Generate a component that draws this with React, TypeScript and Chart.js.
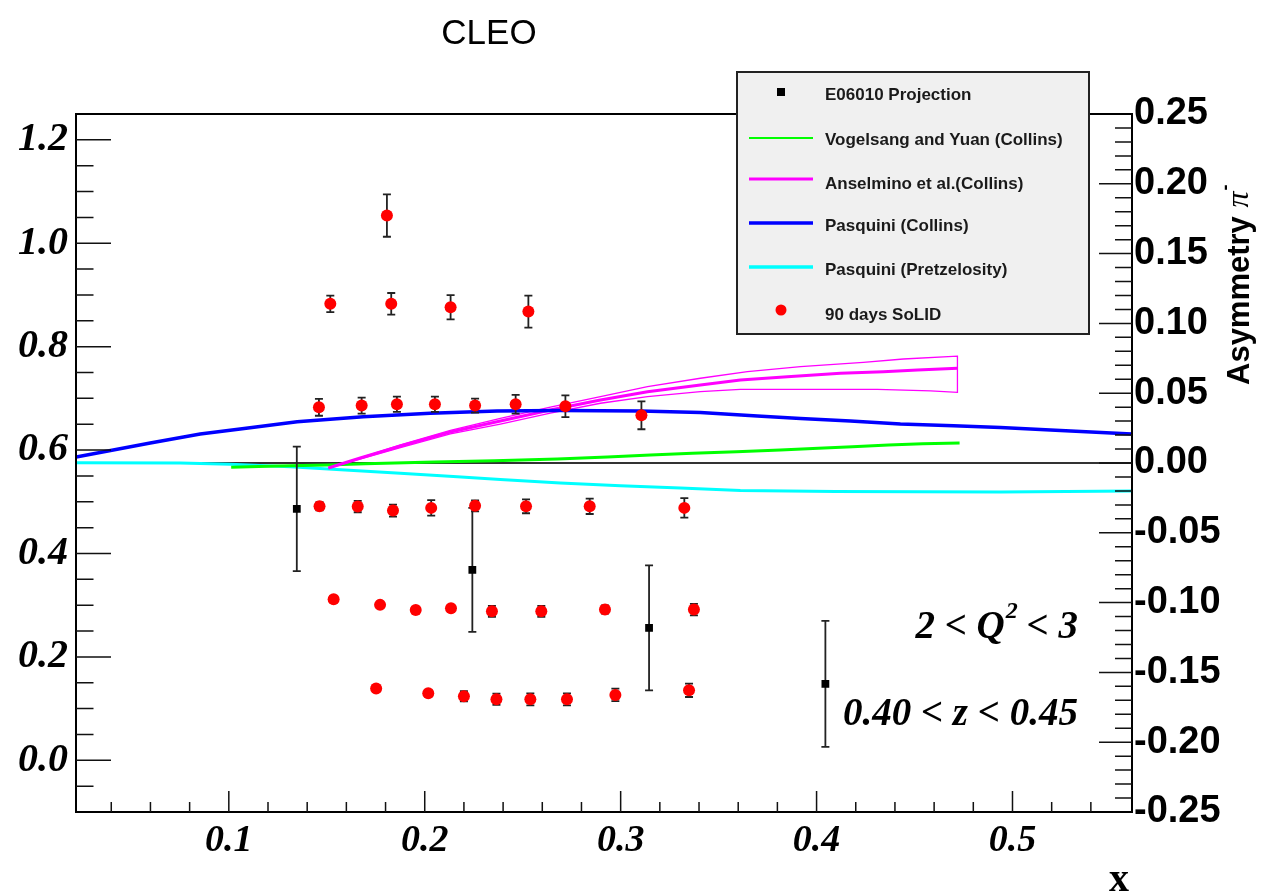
import React, { useEffect, useRef } from "react";
import { Chart, registerables } from "chart.js";

Chart.register(...registerables);

// ---------- tick labels ----------
const xTicks = [0.1, 0.2, 0.3, 0.4, 0.5];
const leftTicks = [0.0, 0.2, 0.4, 0.6, 0.8, 1.0, 1.2];
const rightTicks = [-0.25, -0.2, -0.15, -0.1, -0.05, 0.0, 0.05, 0.1, 0.15, 0.2, 0.25];

// ---------- 90 days SoLID (left-axis units) ----------
const solidX = [
  0.1807,
  0.1518, 0.1829, 0.2132, 0.2529,
  0.146, 0.1678, 0.1858, 0.2052, 0.2257, 0.2464, 0.2718, 0.3106,
  0.1463, 0.1658, 0.1838, 0.2033, 0.2257, 0.2517, 0.2842, 0.3325,
  0.1535, 0.1772, 0.1954, 0.2134, 0.2343, 0.2595, 0.292, 0.3374,
  0.1752, 0.2018, 0.22, 0.2366, 0.2539, 0.2726, 0.2973, 0.3349,
];
const solidY = [
  1.0536,
  0.8828, 0.8828, 0.8762, 0.8679,
  0.6828, 0.6861, 0.6886, 0.6886, 0.6861, 0.6886, 0.6847, 0.6673,
  0.4913, 0.4907, 0.483, 0.4882, 0.4921, 0.4913, 0.4913, 0.4882,
  0.3114, 0.3006, 0.2909, 0.294, 0.2882, 0.2882, 0.2915, 0.2915,
  0.1387, 0.1296, 0.1238, 0.118, 0.118, 0.118, 0.1265, 0.1354,
];
const solidErr = [
  0.041,
  0.016, 0.021, 0.0236, 0.031,
  0.0164, 0.0155, 0.0149, 0.0149, 0.0135, 0.018, 0.021, 0.027,
  0.008, 0.011, 0.0116, 0.0149, 0.0106, 0.0135, 0.0149, 0.019,
  0.006, 0.006, 0.006, 0.006, 0.0106, 0.0106, 0.008, 0.0112,
  0.006, 0.006, 0.0097, 0.011, 0.0116, 0.0116, 0.0122, 0.013,
];

// ---------- E06010 projection (left-axis units) ----------
const e06010X = [0.1347, 0.2243, 0.3145, 0.4045];
const e06010Y = [0.4863, 0.3683, 0.2561, 0.1478];
const e06010Err = [0.1205, 0.12, 0.121, 0.122];

// ---------- theory curves (asymmetry, right axis) ----------
const pasquiniCollinsX = [0.0221, 0.0599, 0.0854, 0.1058, 0.1349, 0.1686, 0.2028, 0.237, 0.2692, 0.3101, 0.3407, 0.3698, 0.3918, 0.4173, 0.4428, 0.4699, 0.4939, 0.5194, 0.5608];
const pasquiniCollinsA = [0.0043, 0.0143, 0.0208, 0.0244, 0.0296, 0.0332, 0.0356, 0.0372, 0.0376, 0.0372, 0.0362, 0.0337, 0.0319, 0.0301, 0.0279, 0.0267, 0.0254, 0.0236, 0.0208];

const pasquiniPretzX = [0.0221, 0.0752, 0.1007, 0.1313, 0.1594, 0.1875, 0.2166, 0.2386, 0.2692, 0.2999, 0.3305, 0.3611, 0.4096, 0.4939, 0.5608];
const pasquiniPretzA = [0.0002, 0.0, -0.0009, -0.0027, -0.005, -0.0074, -0.0098, -0.0118, -0.0143, -0.0163, -0.0179, -0.0197, -0.0204, -0.0208, -0.0201];

const vogelsangX = [0.1012, 0.1247, 0.1502, 0.1696, 0.2049, 0.2355, 0.2677, 0.2932, 0.3152, 0.3366, 0.3591, 0.3815, 0.4009, 0.4183, 0.4367, 0.4541, 0.473];
const vogelsangA = [-0.0031, -0.0021, -0.0014, -0.0005, 0.0007, 0.0016, 0.0029, 0.0043, 0.0057, 0.0069, 0.0081, 0.0093, 0.0105, 0.0117, 0.0129, 0.0138, 0.0143];

const anselminoX = [0.1508, 0.1671, 0.1876, 0.2131, 0.2386, 0.2641, 0.2897, 0.3137, 0.3407, 0.3611, 0.3851, 0.4122, 0.4341, 0.4515, 0.4719];
const anselminoA = [-0.0036, 0.0036, 0.0122, 0.0222, 0.0301, 0.038, 0.0451, 0.0511, 0.0559, 0.0595, 0.0618, 0.0643, 0.0654, 0.0666, 0.0678];

const anselminoUpX = [0.1508, 0.1876, 0.2131, 0.2386, 0.2641, 0.2897, 0.3137, 0.3407, 0.3647, 0.3918, 0.4239, 0.4443, 0.4719];
const anselminoUpA = [-0.0036, 0.0129, 0.0233, 0.0319, 0.0401, 0.0475, 0.0547, 0.0607, 0.0654, 0.069, 0.0721, 0.0745, 0.0766];
const anselminoLoX = [0.1508, 0.1876, 0.2131, 0.2386, 0.2641, 0.2897, 0.3137, 0.3407, 0.3611, 0.4311, 0.4582, 0.4719];
const anselminoLoA = [-0.0036, 0.0111, 0.0208, 0.0279, 0.0358, 0.0428, 0.0475, 0.0511, 0.0528, 0.0528, 0.0516, 0.0506];

const zeroLineX = [0.022, 0.561];
const zeroLineA = [0, 0];

// ---------- legend ----------
const legendLabels = [
  "E06010 Projection",
  "Vogelsang and Yuan (Collins)",
  "Anselmino et al.(Collins)",
  "Pasquini (Collins)",
  "Pasquini (Pretzelosity)",
  "90 days SoLID",
];

const SANS = '"Liberation Sans", Arial, sans-serif';
const SERIF = '"Liberation Serif", "Times New Roman", serif';

const zip = (xs: number[], ys: number[]) => xs.map((x, i) => ({ x, y: ys[i] }));

const errPlugin = {
  id: "errbars",
  beforeDatasetDraw(chart: any, args: any) {
    const ds = chart.data.datasets[args.index];
    if (!ds.errors) return;
    const ctx = chart.ctx;
    const xs = chart.scales.x;
    const ys = chart.scales[ds.yAxisID || "y"];
    const a = chart.chartArea;
    ctx.save();
    ctx.beginPath();
    ctx.rect(a.left, a.top, a.right - a.left, a.bottom - a.top);
    ctx.clip();
    ctx.strokeStyle = ds.errColor;
    ctx.lineWidth = 1.8;
    ds.data.forEach((p: any, i: number) => {
      const e = ds.errors[i];
      const px = xs.getPixelForValue(p.x);
      const y1 = ys.getPixelForValue(p.y + e);
      const y2 = ys.getPixelForValue(p.y - e);
      const c = ds.capHalf;
      ctx.beginPath();
      ctx.moveTo(px, y1);
      ctx.lineTo(px, y2);
      ctx.moveTo(px - c, y1);
      ctx.lineTo(px + c, y1);
      ctx.moveTo(px - c, y2);
      ctx.lineTo(px + c, y2);
      ctx.stroke();
    });
    ctx.restore();
  },
};

const decorPlugin = {
  id: "decor",
  afterDraw(chart: any) {
    const { ctx, chartArea: a, scales } = chart;
    ctx.save();
    // frame
    ctx.strokeStyle = "#000";
    ctx.lineWidth = 2;
    ctx.strokeRect(a.left, a.top, a.right - a.left, a.bottom - a.top);

    // ticks
    ctx.lineWidth = 1.5;
    ctx.strokeStyle = "#111";
    ctx.beginPath();
    for (let i = -1; i <= 24; i++) {
      const p = scales.y.getPixelForValue(i * 0.05);
      const len = i % 4 === 0 ? 35 : 17.5;
      ctx.moveTo(a.left, p);
      ctx.lineTo(a.left + len, p);
    }
    for (let i = -24; i <= 24; i++) {
      const p = scales.y2.getPixelForValue(i * 0.01);
      const len = i % 5 === 0 ? 33 : 17;
      ctx.moveTo(a.right, p);
      ctx.lineTo(a.right - len, p);
    }
    for (let i = 2; i <= 27; i++) {
      const p = scales.x.getPixelForValue(i * 0.02);
      const len = i % 5 === 0 ? 21 : 10;
      ctx.moveTo(p, a.bottom);
      ctx.lineTo(p, a.bottom - len);
    }
    ctx.stroke();

    // title
    ctx.fillStyle = "#000";
    ctx.font = `35px ${SANS}`;
    ctx.textAlign = "center";
    ctx.textBaseline = "middle";
    ctx.fillText("CLEO", 489, 34);

    // x axis title
    ctx.font = `bold 40px ${SERIF}`;
    ctx.textAlign = "right";
    ctx.textBaseline = "alphabetic";
    ctx.fillText("x", 1129, 891);

    // right axis title (rotated)
    ctx.save();
    ctx.translate(1240, 385);
    ctx.rotate(-Math.PI / 2);
    ctx.textAlign = "left";
    ctx.textBaseline = "middle";
    ctx.font = `bold 31px ${SANS}`;
    const w1 = ctx.measureText("Asymmetry ").width;
    ctx.fillText("Asymmetry ", 0, 0);
    ctx.font = `italic 32px ${SERIF}`;
    ctx.fillText("π", w1, 0);
    const w2 = ctx.measureText("π").width;
    ctx.font = `bold 18px ${SANS}`;
    ctx.fillText("-", w1 + w2 + 1, -14);
    ctx.restore();

    // annotations
    ctx.fillStyle = "#000";
    ctx.textAlign = "left";
    ctx.textBaseline = "alphabetic";
    const big = `bold italic 39px ${SERIF}`;
    const sup = `bold italic 24px ${SERIF}`;
    ctx.font = big;
    const pA = "2 < Q";
    const pC = " < 3";
    const wA = ctx.measureText(pA).width;
    const wC = ctx.measureText(pC).width;
    ctx.font = sup;
    const wB = ctx.measureText("2").width;
    const sx = 1078 - (wA + wB + wC);
    ctx.font = big;
    ctx.fillText(pA, sx, 638);
    ctx.font = sup;
    ctx.fillText("2", sx + wA + 1, 618);
    ctx.font = big;
    ctx.fillText(pC, sx + wA + wB, 638);
    ctx.textAlign = "right";
    ctx.fillText("0.40 < z < 0.45", 1078, 725);

    // legend box
    ctx.fillStyle = "#f0f0f0";
    ctx.fillRect(737, 72, 352, 262);
    ctx.strokeStyle = "#222";
    ctx.lineWidth = 2;
    ctx.strokeRect(737, 72, 352, 262);

    const textY = [95.5, 140, 184, 226, 270, 315];
    const markY = [92, 138, 179, 223, 267, 310];
    // marker: square
    ctx.fillStyle = "#000";
    ctx.fillRect(777, 88, 8, 8);
    // lines
    const lineCols = ["#00ff00", "#ff00ff", "#0000ff", "#00ffff"];
    const lineW = [2, 3, 3.5, 3.5];
    for (let i = 0; i < 4; i++) {
      ctx.strokeStyle = lineCols[i];
      ctx.lineWidth = lineW[i];
      ctx.beginPath();
      ctx.moveTo(749, markY[i + 1]);
      ctx.lineTo(813, markY[i + 1]);
      ctx.stroke();
    }
    // marker: red dot
    ctx.fillStyle = "#ff0000";
    ctx.beginPath();
    ctx.arc(781, markY[5], 5.5, 0, Math.PI * 2);
    ctx.fill();

    ctx.fillStyle = "#1a1a1a";
    ctx.font = `bold 17px ${SANS}`;
    ctx.textAlign = "left";
    ctx.textBaseline = "middle";
    legendLabels.forEach((t, i) => ctx.fillText(t, 825, textY[i]));

    ctx.restore();
  },
};

export default function App() {
  const ref = useRef<HTMLCanvasElement>(null);
  useEffect(() => {
    document.body.style.margin = "0";
    const bandData = [
      ...zip(anselminoUpX, anselminoUpA),
      ...zip(anselminoLoX, anselminoLoA).reverse(),
    ];
    const lineDs = (label: string, data: any[], color: string, width: number) => ({
      label,
      data,
      yAxisID: "y2",
      showLine: true,
      borderColor: color,
      backgroundColor: color,
      borderWidth: width,
      pointRadius: 0,
      pointHoverRadius: 0,
      fill: false,
      tension: 0,
    });
    const chart = new Chart(ref.current as HTMLCanvasElement, {
      type: "scatter",
      data: {
        datasets: [
          {
            label: "90 days SoLID",
            data: zip(solidX, solidY),
            yAxisID: "y",
            pointStyle: "circle",
            pointRadius: 6,
            pointBackgroundColor: "#ff0000",
            pointBorderColor: "#ff0000",
            pointBorderWidth: 0,
            errors: solidErr,
            errColor: "#222",
            capHalf: 4,
          } as any,
          {
            label: "E06010 Projection",
            data: zip(e06010X, e06010Y),
            yAxisID: "y",
            pointStyle: "rect",
            pointRadius: 5.5,
            pointBackgroundColor: "#000",
            pointBorderColor: "#000",
            pointBorderWidth: 0,
            errors: e06010Err,
            errColor: "#222",
            capHalf: 4,
          } as any,
          lineDs("Pasquini (Collins)", zip(pasquiniCollinsX, pasquiniCollinsA), "#0000ff", 3.5),
          lineDs("Anselmino et al.(Collins)", zip(anselminoX, anselminoA), "#ff00ff", 3),
          lineDs("Anselmino band", bandData, "#ff00ff", 1.3),
          lineDs("Vogelsang and Yuan (Collins)", zip(vogelsangX, vogelsangA), "#00ff00", 3),
          lineDs("Pasquini (Pretzelosity)", zip(pasquiniPretzX, pasquiniPretzA), "#00ffff", 3),
          lineDs("zero", zip(zeroLineX, zeroLineA), "#333333", 2),
        ],
      },
      options: {
        animation: false,
        responsive: false,
        devicePixelRatio: 1,
        layout: { padding: { top: 114, left: 0, right: 0, bottom: 0 } },
        plugins: { legend: { display: false }, tooltip: { enabled: false }, title: { display: false } },
        events: [],
        scales: {
          x: {
            type: "linear",
            min: 0.022,
            max: 0.561,
            grid: { display: false, drawTicks: false },
            border: { display: false },
            afterBuildTicks: (s: any) => {
              s.ticks = xTicks.map((v) => ({ value: v }));
            },
            afterFit: (s: any) => {
              s.height = 82;
            },
            ticks: {
              autoSkip: false,
              maxRotation: 0,
              padding: 6,
              color: "#000",
              font: { family: SERIF, size: 38, style: "italic", weight: "bold" },
              callback: (v: any) => Number(v).toFixed(1),
            },
          },
          y: {
            type: "linear",
            position: "left",
            min: -0.1,
            max: 1.25,
            grid: { display: false, drawTicks: false },
            border: { display: false },
            afterBuildTicks: (s: any) => {
              s.ticks = leftTicks.map((v) => ({ value: v }));
            },
            afterFit: (s: any) => {
              s.width = 76;
            },
            ticks: {
              autoSkip: false,
              padding: 8,
              color: "#000",
              font: { family: SERIF, size: 40, style: "italic", weight: "bold" },
              callback: (v: any) => Number(v).toFixed(1),
            },
          },
          y2: {
            type: "linear",
            position: "right",
            min: -0.25,
            max: 0.25,
            grid: { display: false, drawTicks: false },
            border: { display: false },
            afterBuildTicks: (s: any) => {
              s.ticks = rightTicks.map((v) => ({ value: v }));
            },
            afterFit: (s: any) => {
              s.width = 135;
            },
            ticks: {
              autoSkip: false,
              padding: 2,
              color: "#000",
              font: { family: SANS, size: 38, weight: "bold" },
              callback: (v: any) => Number(v).toFixed(2),
            },
          },
        },
      } as any,
      plugins: [errPlugin, decorPlugin],
    });
    return () => chart.destroy();
  }, []);
  return (
    <div style={{ width: 1267, height: 894, position: "relative", background: "#fff" }}>
      <canvas ref={ref} width={1267} height={894} style={{ display: "block", width: 1267, height: 894 }} />
    </div>
  );
}
